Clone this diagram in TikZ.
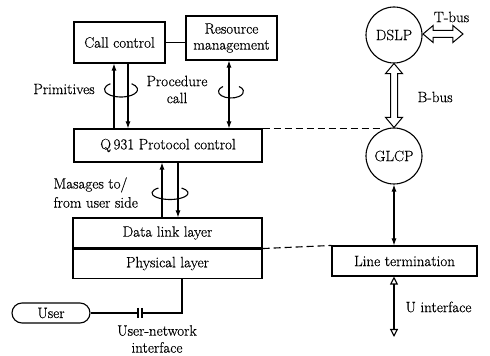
\documentclass[tikz,border=0pt]{standalone}
\usepackage{fontspec}
\setmainfont{Latin Modern Roman}[FakeBold=0.4]
\usetikzlibrary{arrows.meta,shapes.arrows,calc}
\begin{document}
\begin{tikzpicture}[x=1pt,y=1pt,
  font=\fontsize{15}{18}\selectfont,
  line width=1.1pt,
  box/.style={draw,rectangle,inner sep=0pt},
  circ/.style={draw,circle,minimum size=56pt,inner sep=0pt},
  lbl/.style={inner sep=0pt},
  arr/.style={-{Latex[length=7pt,width=5pt]}},
  arrb/.style={{Latex[length=7pt,width=5pt]}-{Latex[length=7pt,width=5pt]}},
  uarr/.style={{Triangle[open,length=8pt,width=8pt]}-{Triangle[open,length=8pt,width=8pt]}},
  bus/.style={draw,double arrow,double arrow tip angle=80,double arrow head extend=5pt,inner sep=3pt,line width=1pt},
  rot/.style={line width=1.1pt},
  dsh/.style={dash pattern=on 7pt off 4pt}
]
\useasboundingbox (0,0) rectangle (490,356);
% boxes
\node[box,minimum width=91pt,minimum height=41pt] (cc) at (119.5,313.5) {Call control};
\node[box,minimum width=91pt,minimum height=44pt,align=center,font=\fontsize{15}{16}\selectfont] (rm) at (231.5,318) {Resource\\management};
\node[box,minimum width=188pt,minimum height=33pt] (q931) at (168,210.5) {Q\,931 Protocol control};
\node[box,minimum width=189pt,minimum height=30pt] (dll) at (167.5,123) {Data link layer};
\node[box,minimum width=189pt,minimum height=29pt,anchor=north] (phy) at (dll.south) {Physical layer};
\node[box,minimum width=145pt,minimum height=30pt] (lt) at (404.5,95) {Line termination};
\node[circ] (dslp) at (394,321) {DSLP};
\node[circ] (glcp) at (394,200) {GLCP};
\node[draw,rounded corners=10pt,minimum width=78pt,minimum height=20pt,inner sep=0pt] (user) at (51,43) {User};
% connectors
\draw (cc.east) -- (cc.east -| rm.west);
\draw[arr] ([xshift=-5.5pt]cc.south |- q931.north) -- ([xshift=-5.5pt]cc.south);
\draw[arr] ([xshift=8.5pt]cc.south) -- ([xshift=8.5pt]cc.south |- q931.north);
\draw[arrb] ([xshift=-2.5pt]rm.south) -- ([xshift=-2.5pt]rm.south |- q931.north);
\draw[arr] ([xshift=-6pt]q931.south |- dll.north) -- ([xshift=-6pt]q931.south);
\draw[arr] ([xshift=10pt]q931.south) -- ([xshift=10pt]q931.south |- dll.north);
% rotation loops
\draw[rot] ([shift={(130:16.5pt and 7.5pt)}]121,266.5) arc[start angle=130,end angle=410,x radius=16.5pt,y radius=7.5pt];
\draw[rot] ([shift={(130:12.5pt and 6.5pt)}]231,264.5) arc[start angle=130,end angle=410,x radius=12.5pt,y radius=6.5pt];
\draw[rot] ([shift={(130:18pt and 6.5pt)}]170,163) arc[start angle=130,end angle=410,x radius=18pt,y radius=6.5pt];
% dashed
\draw[dsh] (q931.north east) -- (q931.north east -| glcp.112);
\draw[dsh] (dll.south east) -- (lt.north west);
% buses
\node[bus,minimum height=64pt,rotate=90] (bbus) at ($(dslp.south)!0.5!(glcp.north)$) {};
\node[bus,minimum height=40pt] (tbus) at (443,322) {};
\draw[arrb] (glcp.south) -- (glcp.south |- lt.north);
\coordinate (uend) at (394,19);
\draw[uarr] (glcp.south |- lt.south) -- (uend);
% user line with capacitor
\coordinate (capL) at (138,43);
\coordinate (capR) at (142,43);
\draw (user.east) -- (capL);
\draw ([yshift=5pt]capL) -- ([yshift=-5pt]capL);
\draw ([yshift=5pt]capR) -- ([yshift=-5pt]capR);
\draw (capR) -| ([xshift=14.5pt]phy.south);
% labels
\node[lbl] (lprim) at (64,267) {Primitives};
\node[lbl,align=center,font=\fontsize{15}{17}\selectfont] (lproc) at (177,266.5) {Procedure\\call};
\node[lbl,align=left,anchor=west,font=\fontsize{15}{19}\selectfont] (lmsg) at (53,163.5) {Masages to/\\from user side};
\node[lbl,align=center,font=\fontsize{15}{17}\selectfont] (luni) at (157,17) {User-network\\interface};
\node[lbl] (ltbus) at (451.5,339) {T-bus};
\node[lbl,anchor=west] (lbbus) at (417,259) {B-bus};
\node[lbl,anchor=west] (lu) at (405,49) {U interface};
\end{tikzpicture}
\end{document}
